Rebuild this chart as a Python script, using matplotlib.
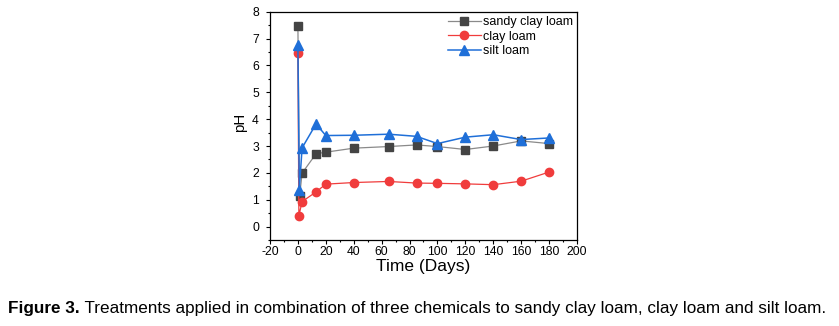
import matplotlib
matplotlib.use("Agg")
import matplotlib.pyplot as plt
from matplotlib.ticker import MultipleLocator
from matplotlib import font_manager

# pH readings over time for each soil texture
days_sandy = [0, 1.2, 3, 13, 20, 40, 65, 85, 100, 120, 140, 160, 180]
ph_sandy = [7.48, 1.12, 1.99, 2.71, 2.77, 2.92, 2.98, 3.04, 2.98, 2.87, 3.00, 3.19, 3.09]

days_clay = [0, 0.7, 3, 13, 20, 40, 65, 85, 100, 120, 140, 160, 180]
ph_clay = [6.45, 0.40, 0.93, 1.29, 1.58, 1.64, 1.68, 1.62, 1.61, 1.59, 1.56, 1.69, 2.03]

days_silt = [0, 1, 3, 13, 20, 40, 65, 85, 100, 120, 140, 160, 180]
ph_silt = [6.75, 1.38, 2.93, 3.82, 3.39, 3.40, 3.44, 3.36, 3.09, 3.33, 3.42, 3.24, 3.30]

series_names = ["sandy clay loam", "clay loam", "silt loam"]
caption_bold = "Figure 3."
caption_text = " Treatments applied in combination of three chemicals to sandy clay loam, clay loam and silt loam."

names = {f.name for f in font_manager.fontManager.ttflist}
base_font = "Liberation Sans" if "Liberation Sans" in names else "DejaVu Sans"
plt.rcParams["font.family"] = [base_font, "DejaVu Sans"]
plt.rcParams["axes.unicode_minus"] = False

fig = plt.figure(figsize=(8.39, 3.26), dpi=100)
ax = fig.add_axes([0.3218, 0.2638, 0.3659, 0.7002])

ax.plot(days_sandy, ph_sandy, color="#8a8a8a", lw=0.9, marker="s", ms=6,
        mfc="#444444", mec="#444444", label=series_names[0], zorder=2)
ax.plot(days_silt, ph_silt, color="#1f6fd8", lw=1.1, marker="^", ms=7,
        mfc="#1f6fd8", mec="#1f6fd8", label=series_names[2], zorder=3)
ax.plot(days_clay, ph_clay, color="#f03c3c", lw=0.9, marker="o", ms=6,
        mfc="#f03c3c", mec="#f03c3c", label=series_names[1], zorder=2.5)

ax.set_xlim(-20, 200)
ax.set_ylim(-0.5, 8)
ax.xaxis.set_major_locator(MultipleLocator(20))
ax.xaxis.set_minor_locator(MultipleLocator(10))
ax.yaxis.set_major_locator(MultipleLocator(1))
ax.yaxis.set_minor_locator(MultipleLocator(0.5))
ax.tick_params(which="both", direction="out", top=False, right=False, width=0.8)
ax.tick_params(which="major", length=3, labelsize=8.7)
ax.tick_params(axis="x", which="major", pad=1.5)
ax.tick_params(axis="y", which="major", pad=5)
ax.tick_params(which="minor", length=1.6)
for s in ax.spines.values():
    s.set_linewidth(0.9)

ax.set_xlabel("Time (Days)", fontsize=12.5, va="baseline")
ax.xaxis.set_label_coords(0.5, -0.137)
ax.set_ylabel("pH", fontsize=10.8, va="center")
ax.yaxis.set_label_coords(-0.099, 0.515)

handles, labels = ax.get_legend_handles_labels()
order = [labels.index(n) for n in series_names]
ax.legend([handles[i] for i in order], [labels[i] for i in order],
          loc="upper right", frameon=False, fontsize=9, handlelength=2.6,
          handletextpad=0.15, labelspacing=0.2, borderaxespad=0.15,
          borderpad=0.2, bbox_to_anchor=(1.0, 1.0))

# caption below the plot, sized to span the figure width
cap_family = [base_font, "DejaVu Sans"]
y_cap = 1 - 313 / 326
t1 = fig.text(8 / 839, y_cap, caption_bold, fontsize=12, fontweight="bold",
              family=cap_family, va="baseline", ha="left")
t2 = fig.text(0, y_cap, caption_text, fontsize=12, family=cap_family,
              va="baseline", ha="left")
fig.canvas.draw()
r = fig.canvas.get_renderer()
w_total = t1.get_window_extent(r).width + t2.get_window_extent(r).width
scale = 818 / w_total
t1.set_fontsize(12 * scale)
t2.set_fontsize(12 * scale)
fig.canvas.draw()
t2.set_x(t1.get_window_extent(r).x1 / fig.bbox.width)

fig.savefig("out.png", dpi=100)
